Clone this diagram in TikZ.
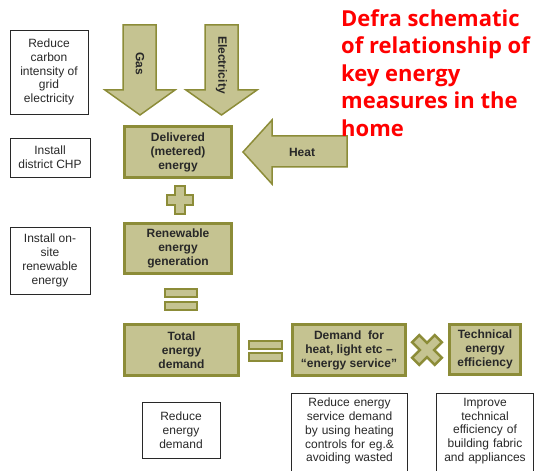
\documentclass[tikz,border=0pt]{standalone}
\usepackage{fontspec}
\setmainfont{Liberation Sans}
\newfontfamily\titlefont{Open Sans}
\usetikzlibrary{positioning}

\definecolor{olivefill}{RGB}{197,195,145}
\definecolor{oliveline}{RGB}{140,140,56}
\definecolor{textgray}{RGB}{40,40,40}
\definecolor{titlered}{RGB}{255,0,0}

\tikzset{
  obox/.style={draw=oliveline, fill=olivefill, line width=3pt, align=center,
    font=\fontsize{12}{14}\selectfont\bfseries, text=textgray, inner sep=2pt},
  wbox/.style={draw=textgray, line width=0.8pt, align=center,
    font=\fontsize{12}{13.75}\selectfont, text=textgray, inner sep=2pt},
  wtext/.style={align=center, font=\fontsize{12}{13.75}\selectfont,
    text=textgray, inner xsep=2pt, inner ysep=5pt},
  wline/.style={draw=textgray, line width=0.8pt},
  blockarrow/.style={draw=oliveline, fill=olivefill, line width=1.5pt},
  sign/.style={draw=oliveline, fill=olivefill, line width=2.5pt},
  arrowtext/.style={font=\fontsize{12}{14}\selectfont\bfseries, text=textgray}
}

\begin{document}
\begin{tikzpicture}[x=1pt, y=-1pt]
  \useasboundingbox (0,0) rectangle (534,470);
  \clip (0,0) rectangle (534,470);

  % supply arrows
  \draw[blockarrow] (123,25) -- (156,25) -- (156,90) -- (175,90) -- (140,115)
    -- (105,90) -- (123,90) -- cycle;
  \node[arrowtext, rotate=-90] (gas) at (140,64) {Gas};
  \draw[blockarrow] (205,25) -- (238,25) -- (238,90) -- (257,90) -- (221.5,115)
    -- (186,90) -- (205,90) -- cycle;
  \node[arrowtext, rotate=-90] (elec) at (221.5,65) {Electricity};
  \draw[blockarrow] (347,136) -- (272,136) -- (272,120) -- (243,152)
    -- (272,184) -- (272,167) -- (347,167) -- cycle;
  \node[arrowtext] (heat) at (302,152) {Heat};

  % energy boxes
  \node[obox, minimum width=107, minimum height=51] (deliv) at (178,152)
    {Delivered\\(metered)\\energy};
  \node[obox, minimum width=107, minimum height=50] (renew) at (178,248.5)
    {Renewable\\energy\\generation};
  \node[obox, minimum width=114, minimum height=51] (total) at (181.5,350)
    {Total\\energy\\demand};
  \node[obox, minimum width=113, minimum height=51] (demand) at (349,350)
    {Demand~ for\\heat, light etc --\\``energy service''};
  \node[obox, minimum width=71, minimum height=50] (tech) at (485,349.5)
    {Technical\\energy\\efficiency};

  % plus, equals, times
  \draw[sign] (175,186) -- (185,186) -- (185,195) -- (193,195) -- (193,205)
    -- (185,205) -- (185,214) -- (175,214) -- (175,205) -- (167,205)
    -- (167,195) -- (175,195) -- cycle;
  \draw[sign] (165,289) rectangle (197,297);
  \draw[sign] (165,302) rectangle (197,310);
  \draw[sign] (249,341) rectangle (282,349);
  \draw[sign] (249,353) rectangle (282,361);
  \begin{scope}[shift={(427,350)}, rotate=45]
    \draw[sign] (-5,-16) -- (5,-16) -- (5,-5) -- (16,-5) -- (16,5) -- (5,5)
      -- (5,16) -- (-5,16) -- (-5,5) -- (-16,5) -- (-16,-5) -- (-5,-5) -- cycle;
  \end{scope}

  % measures
  \node[wbox, minimum width=78, minimum height=84] (carbon) at (49,72)
    {Reduce\\carbon\\intensity of\\grid\\electricity};
  \node[wbox, minimum width=80, minimum height=39] (chp) at (50,157.5)
    {Install\\district CHP};
  \node[wbox, minimum width=80, minimum height=67] (onsite) at (50,260.5)
    {Install on-\\site\\renewable\\energy};
  \node[wbox, minimum width=78, minimum height=56] (redem) at (181,430)
    {Reduce\\energy\\demand};
  \node[wtext, anchor=north, text width=111] (svc) at (349.5,393)
    {Reduce energy\\service demand\\by using heating\\controls for eg.\&\\avoiding wasted};
  \draw[wline] (svc.north west) rectangle ([yshift=-100pt]svc.north east);
  \node[wtext, anchor=north, text width=92] (impr) at (485,393)
    {Improve\\technical\\efficiency of\\building fabric\\and appliances};
  \draw[wline] (impr.north west) rectangle ([yshift=-100pt]impr.north east);

  % title
  \node[anchor=north west, align=left, inner sep=0pt, text=titlered,
    font=\titlefont\bfseries\fontsize{22}{27.5}\selectfont] (title) at (341,9)
    {Defra schematic\\of relationship of\\key energy\\measures in the\\home};
\end{tikzpicture}
\end{document}
